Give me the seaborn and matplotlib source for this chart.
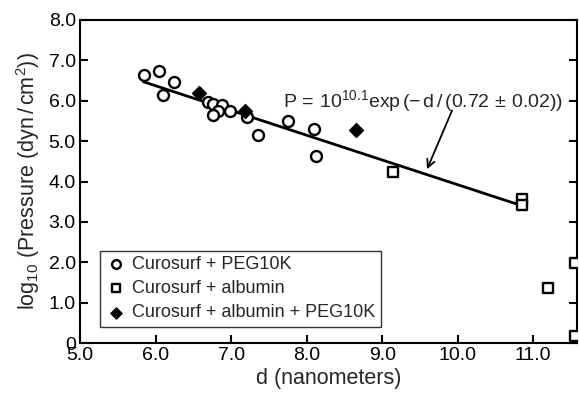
import matplotlib
matplotlib.use("Agg")
import matplotlib.pyplot as plt
import seaborn as sns
import pandas as pd

sns.set_style("ticks")
plt.rcParams['font.family'] = ['Liberation Sans', 'DejaVu Sans']
plt.rcParams['mathtext.fontset'] = 'custom'
plt.rcParams['mathtext.rm'] = 'Liberation Sans'
plt.rcParams['mathtext.it'] = 'Liberation Sans'
plt.rcParams['mathtext.default'] = 'regular'

# Data
peg_x = [5.85, 6.04, 6.10, 6.25, 6.69, 6.76, 6.88, 6.83, 6.76, 6.98, 7.21, 7.36, 7.75, 8.10, 8.13]
peg_y = [6.65, 6.74, 6.14, 6.46, 5.97, 5.92, 5.89, 5.75, 5.64, 5.75, 5.59, 5.15, 5.49, 5.29, 4.63]
alb_x = [9.15, 10.85, 10.85, 11.19, 11.55, 11.55]
alb_y = [4.24, 3.56, 3.42, 1.37, 1.97, 0.18]
both_x = [6.58, 7.19, 8.66]
both_y = [6.18, 5.74, 5.27]
fit_x = [5.84, 10.85]
fit_y = [6.47, 3.40]

labels = ["Curosurf + PEG10K", "Curosurf + albumin", "Curosurf + albumin + PEG10K"]
x_ticks = [5.0, 6.0, 7.0, 8.0, 9.0, 10.0, 11.0]
x_ticklabels = ["5.0", "6.0", "7.0", "8.0", "9.0", "10.0", "11.0"]
y_ticks = [0, 1, 2, 3, 4, 5, 6, 7, 8]
y_ticklabels = ["0", "1.0", "2.0", "3.0", "4.0", "5.0", "6.0", "7.0", "8.0"]

fig = plt.figure(figsize=(5.79, 4.03), dpi=100)
ax = fig.add_axes([80/579, 60/403, 497/579, 323/403])

sns.lineplot(x=fit_x, y=fit_y, ax=ax, color='black', lw=2.0, zorder=2)

df_peg = pd.DataFrame({"d": peg_x, "p": peg_y})
df_alb = pd.DataFrame({"d": alb_x, "p": alb_y})
df_both = pd.DataFrame({"d": both_x, "p": both_y})

sns.scatterplot(data=df_peg, x="d", y="p", ax=ax, marker='o', s=62,
                facecolor='white', edgecolor='black', linewidth=1.7, label=labels[0], zorder=3)
sns.scatterplot(data=df_alb, x="d", y="p", ax=ax, marker='s', s=55,
                facecolor='white', edgecolor='black', linewidth=1.7, label=labels[1], zorder=3)
sns.scatterplot(data=df_both, x="d", y="p", ax=ax, marker='D', s=50,
                facecolor='black', edgecolor='black', linewidth=1.0, label=labels[2], zorder=4)

ax.set_xlim(5.0, 11.58)
ax.set_ylim(0, 8.0)
ax.set_xticks(x_ticks)
ax.set_xticklabels(x_ticklabels)
ax.set_yticks(y_ticks)
ax.set_yticklabels(y_ticklabels)
ax.tick_params(direction='in', length=6, width=1.5, labelsize=14, right=True, top=False,
               colors='black', pad=3)
for s in ax.spines.values():
    s.set_visible(True)
    s.set_linewidth(1.5)
    s.set_color('black')

ax.set_xlabel("d (nanometers)", fontsize=15.5, labelpad=3)
ax.set_ylabel(r"log$_{10}$ (Pressure (dyn$\,$/$\,$cm$^2$))", fontsize=15.5, labelpad=5)

ax.text(7.69, 5.99, r"P$\,=\,$10$^{10.1}$exp$\,(-\,$d$\,/\,$(0.72$\,\pm\,$0.02))",
        fontsize=14, va='center', ha='left')
ax.annotate("", xy=(9.58, 4.24), xytext=(9.94, 5.82),
            arrowprops=dict(arrowstyle='->', color='black', lw=1.3, mutation_scale=14))

leg = ax.legend(loc='lower left', bbox_to_anchor=(0.04, 0.05), frameon=True, fancybox=False,
                edgecolor='black', fontsize=13, handletextpad=0.3, borderpad=0.3,
                labelspacing=0.4, handlelength=1.2, borderaxespad=0, markerscale=0.8)
leg.get_frame().set_linewidth(1.0)

fig.savefig("out.png", dpi=100)
